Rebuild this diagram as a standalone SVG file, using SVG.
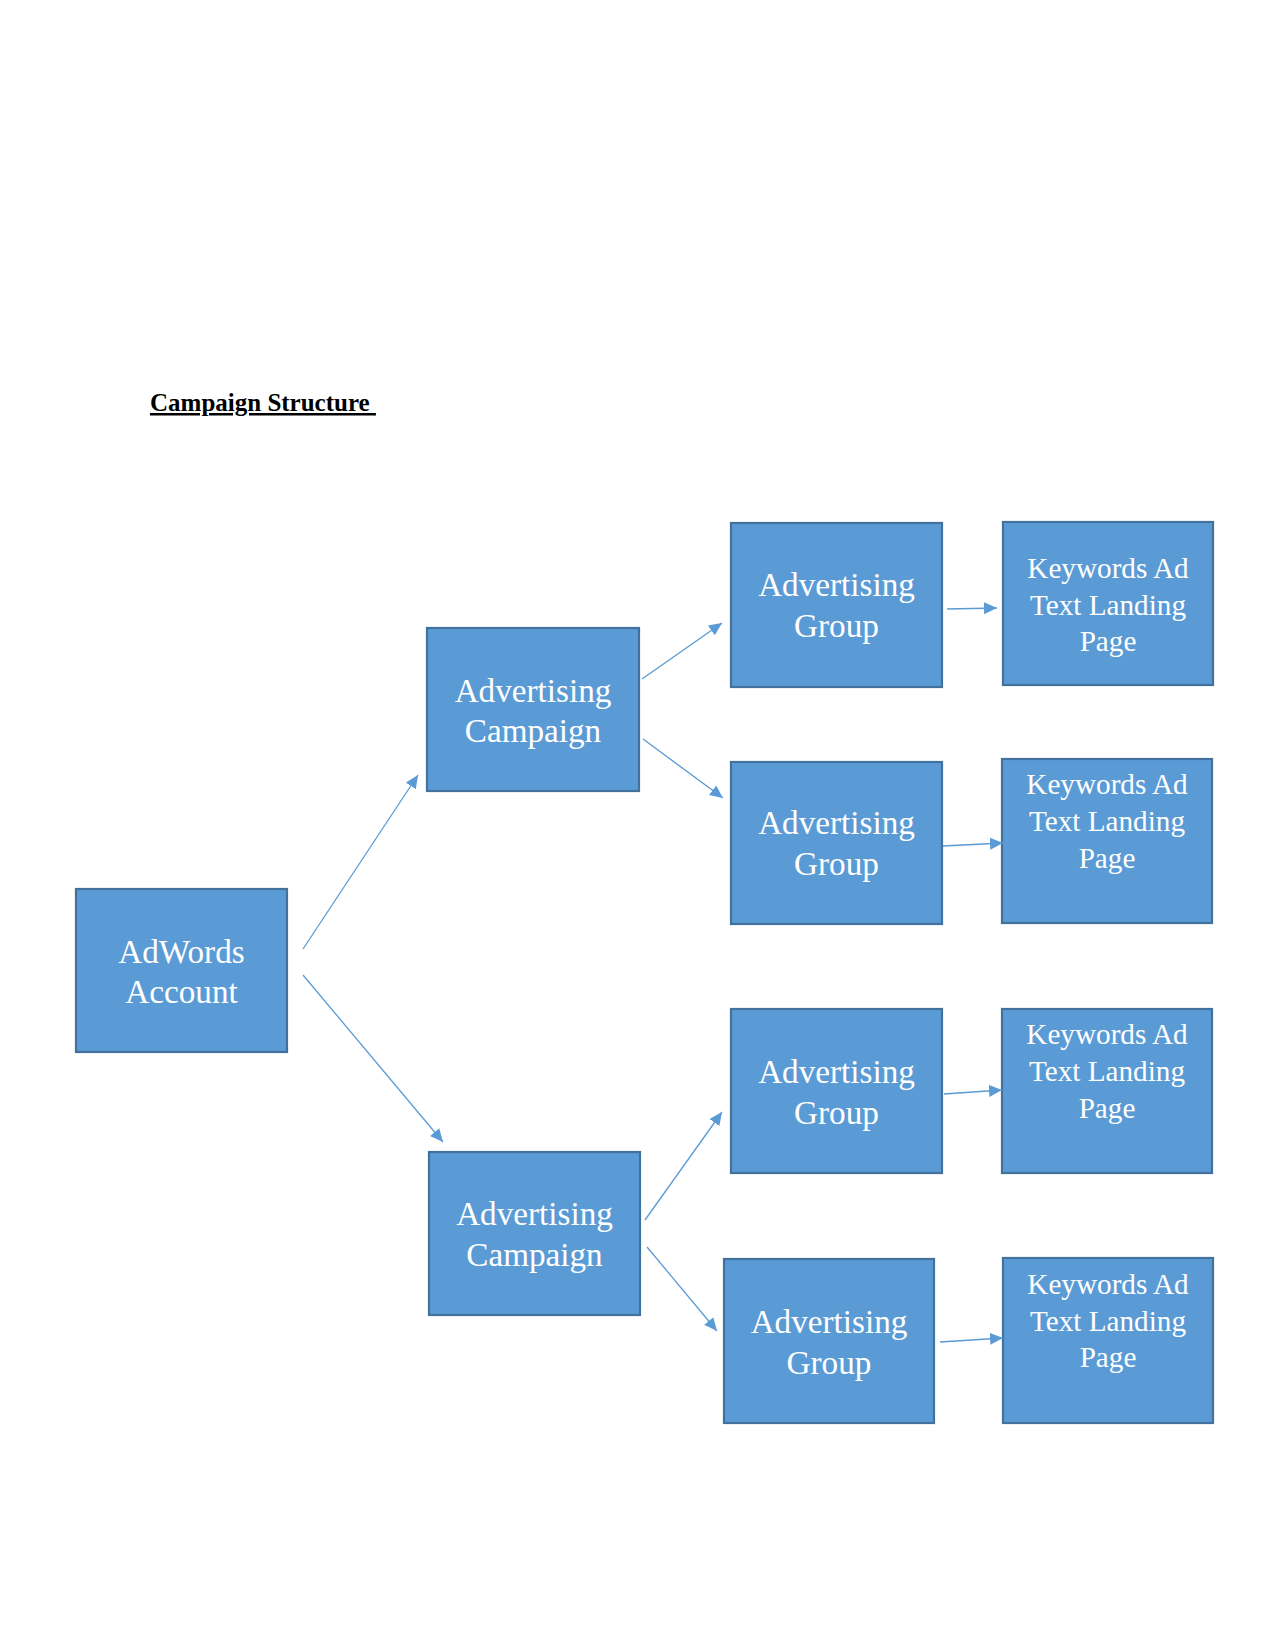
<svg xmlns="http://www.w3.org/2000/svg" width="1275" height="1651" viewBox="0 0 1275 1651">
<style>
.box{fill:#5B9BD5;stroke:#41719C;stroke-width:2.2}
.t{font-family:"Liberation Serif","Times New Roman",serif;fill:#FFFFFF;text-anchor:middle}
.big{font-size:33.2px}
.small{font-size:29.2px}
.conn line{stroke:#5B9BD5;stroke-width:1.3;fill:none}
.title{font-family:"Liberation Serif","Times New Roman",serif;font-weight:bold;font-size:25px;fill:#000;text-decoration:underline;white-space:pre}
</style>
<defs>
<marker id="ah" markerUnits="userSpaceOnUse" markerWidth="15" markerHeight="13" refX="13" refY="6" orient="auto">
<path d="M0,0 L13,6 L0,12 Z" fill="#5B9BD5"/>
</marker>
</defs>
<rect width="1275" height="1651" fill="#FFFFFF"/>
<text class="title" x="150" y="411" xml:space="preserve">Campaign Structure </text>

<g id="account">
<rect class="box" x="76" y="889" width="211" height="163"/>
<text class="t big" x="181.5" y="963">AdWords</text>
<text class="t big" x="181.5" y="1003">Account</text>
</g>

<g id="campaign1">
<rect class="box" x="427" y="628" width="212" height="163"/>
<text class="t big" x="533" y="702">Advertising</text>
<text class="t big" x="533" y="742">Campaign</text>
</g>

<g id="campaign2">
<rect class="box" x="429" y="1152" width="211" height="163"/>
<text class="t big" x="534.5" y="1225">Advertising</text>
<text class="t big" x="534.5" y="1266">Campaign</text>
</g>

<g id="group1">
<rect class="box" x="731" y="523" width="211" height="164"/>
<text class="t big" x="836.5" y="596">Advertising</text>
<text class="t big" x="836.5" y="637">Group</text>
</g>

<g id="group2">
<rect class="box" x="731" y="762" width="211" height="162"/>
<text class="t big" x="836.5" y="834">Advertising</text>
<text class="t big" x="836.5" y="875">Group</text>
</g>

<g id="group3">
<rect class="box" x="731" y="1009" width="211" height="164"/>
<text class="t big" x="836.5" y="1083">Advertising</text>
<text class="t big" x="836.5" y="1124">Group</text>
</g>

<g id="group4">
<rect class="box" x="724" y="1259" width="210" height="164"/>
<text class="t big" x="829" y="1333">Advertising</text>
<text class="t big" x="829" y="1374">Group</text>
</g>

<g id="kw1">
<rect class="box" x="1003" y="522" width="210" height="163"/>
<text class="t small" x="1108" y="578">Keywords Ad</text>
<text class="t small" x="1108" y="615">Text Landing</text>
<text class="t small" x="1108" y="651">Page</text>
</g>

<g id="kw2">
<rect class="box" x="1002" y="759" width="210" height="164"/>
<text class="t small" x="1107" y="794">Keywords Ad</text>
<text class="t small" x="1107" y="831">Text Landing</text>
<text class="t small" x="1107" y="868">Page</text>
</g>

<g id="kw3">
<rect class="box" x="1002" y="1009" width="210" height="164"/>
<text class="t small" x="1107" y="1044">Keywords Ad</text>
<text class="t small" x="1107" y="1081">Text Landing</text>
<text class="t small" x="1107" y="1118">Page</text>
</g>

<g id="kw4">
<rect class="box" x="1003" y="1258" width="210" height="165"/>
<text class="t small" x="1108" y="1294">Keywords Ad</text>
<text class="t small" x="1108" y="1331">Text Landing</text>
<text class="t small" x="1108" y="1367">Page</text>
</g>

<g id="connectors" class="conn">
<line x1="303" y1="949" x2="418" y2="775" marker-end="url(#ah)"/>
<line x1="303" y1="975" x2="443" y2="1142" marker-end="url(#ah)"/>
<line x1="642" y1="679" x2="722" y2="623" marker-end="url(#ah)"/>
<line x1="643" y1="739" x2="723" y2="798" marker-end="url(#ah)"/>
<line x1="645" y1="1220" x2="722" y2="1112" marker-end="url(#ah)"/>
<line x1="647" y1="1247" x2="717" y2="1331" marker-end="url(#ah)"/>
<line x1="947" y1="609" x2="997" y2="608" marker-end="url(#ah)"/>
<line x1="943" y1="846" x2="1003" y2="843" marker-end="url(#ah)"/>
<line x1="944" y1="1094" x2="1002" y2="1090" marker-end="url(#ah)"/>
<line x1="940" y1="1342" x2="1003" y2="1338" marker-end="url(#ah)"/>
</g>
</svg>
